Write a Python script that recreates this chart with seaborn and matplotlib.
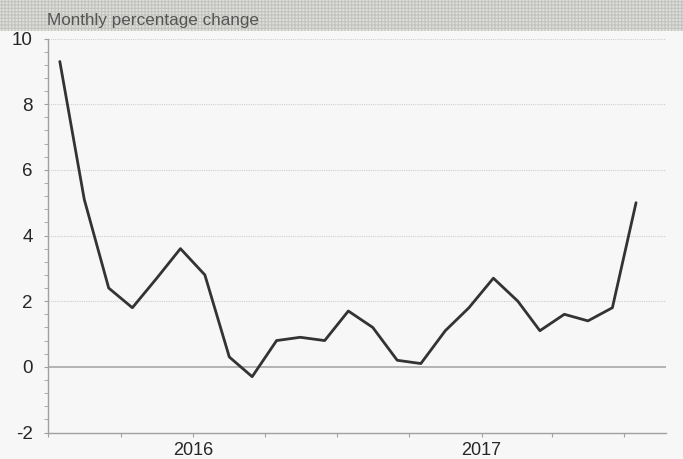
import pandas as pd
import matplotlib
matplotlib.use("Agg")
import matplotlib.pyplot as plt
import matplotlib.dates as mdates
from matplotlib.patches import Rectangle
from matplotlib.ticker import MultipleLocator
import seaborn as sns

# Monthly % change, Jul 2015 .. Jul 2017
months = [
    "2015-07", "2015-08", "2015-09", "2015-10", "2015-11", "2015-12",
    "2016-01", "2016-02", "2016-03", "2016-04", "2016-05", "2016-06",
    "2016-07", "2016-08", "2016-09", "2016-10", "2016-11", "2016-12",
    "2017-01", "2017-02", "2017-03", "2017-04", "2017-05", "2017-06",
    "2017-07",
]
pct_change = [
    9.3, 5.1, 2.4, 1.8, 2.7, 3.6,
    2.8, 0.3, -0.3, 0.8, 0.9, 0.8,
    1.7, 1.2, 0.2, 0.1, 1.1, 1.8,
    2.7, 2.0, 1.1, 1.6, 1.4, 1.8,
    5.0,
]
year_ticks = ["2016-01-01", "2017-01-01"]
year_labels = ["2016", "2017"]
subtitle = "Monthly percentage change"

BG = "#f7f7f7"
LINE = "#333333"
AXIS = "#a0a0a0"
TEXT = "#262626"


def main():
    df = pd.DataFrame({
        "date": pd.to_datetime(months) + pd.Timedelta(days=15),
        "value": pct_change,
    })

    sns.set_style("white")
    plt.rcParams["font.family"] = ["Liberation Sans", "DejaVu Sans"]
    plt.rcParams["axes.unicode_minus"] = False
    plt.rcParams["hatch.linewidth"] = 0.8

    fig = plt.figure(figsize=(6.83, 4.59), dpi=100, facecolor=BG)
    ax = fig.add_axes([48 / 683, 1 - 432.5 / 459, (666 - 48) / 683, (432.5 - 38.5) / 459])
    ax.set_facecolor(BG)

    # textured header band
    fig.patches.append(Rectangle((0, 1 - 31 / 459), 1, 31 / 459, transform=fig.transFigure,
                                 facecolor="#dfdfdb", edgecolor="#c2c2be", hatch="+++++",
                                 linewidth=0, zorder=0))
    fig.text(47 / 683, 1 - 20 / 459, subtitle, ha="left", va="center",
             fontsize=12.3, color="#555555")

    # gridlines + zero line
    for y in [2, 4, 6, 8, 10]:
        ax.axhline(y, color="#cfcfcf", linestyle=(0, (1, 1)), linewidth=0.8, zorder=1)
    ax.axhline(0, color="#a8a8a8", linewidth=1.2, zorder=1)

    sns.lineplot(data=df, x="date", y="value", color=LINE, linewidth=2.0, ax=ax, zorder=3)

    ax.set_ylim(-2, 10)
    ax.set_xlim(pd.Timestamp("2015-07-01"), pd.Timestamp("2017-08-23"))
    ax.yaxis.set_major_locator(MultipleLocator(2))
    ax.yaxis.set_minor_locator(MultipleLocator(0.4))

    # quarter ticks, labels only at the year marks
    ax.xaxis.remove_overlapping_locs = False
    ax.xaxis.set_major_locator(mdates.MonthLocator(bymonth=[1, 4, 7, 10]))
    ax.xaxis.set_major_formatter(plt.NullFormatter())
    ax.set_xticks(pd.to_datetime(year_ticks), minor=True)
    ax.set_xticklabels(year_labels, minor=True)

    ax.tick_params(axis="y", which="major", left=True, length=3, width=0.8, color=AXIS,
                   labelsize=13.5, labelcolor=TEXT, pad=8)
    ax.tick_params(axis="y", which="minor", left=True, length=3, width=0.6, color=AXIS)
    ax.tick_params(axis="x", which="major", bottom=True, length=3, width=0.8, color=AXIS)
    ax.tick_params(axis="x", which="minor", bottom=True, length=0, labelsize=13,
                   labelcolor=TEXT, pad=7)

    for side in ["top", "right"]:
        ax.spines[side].set_visible(False)
    for side in ["left", "bottom"]:
        ax.spines[side].set_color(AXIS)
        ax.spines[side].set_linewidth(1.0)

    ax.set_xlabel("")
    ax.set_ylabel("")

    fig.savefig("out.png", dpi=100, facecolor=BG)


if __name__ == "__main__":
    main()
